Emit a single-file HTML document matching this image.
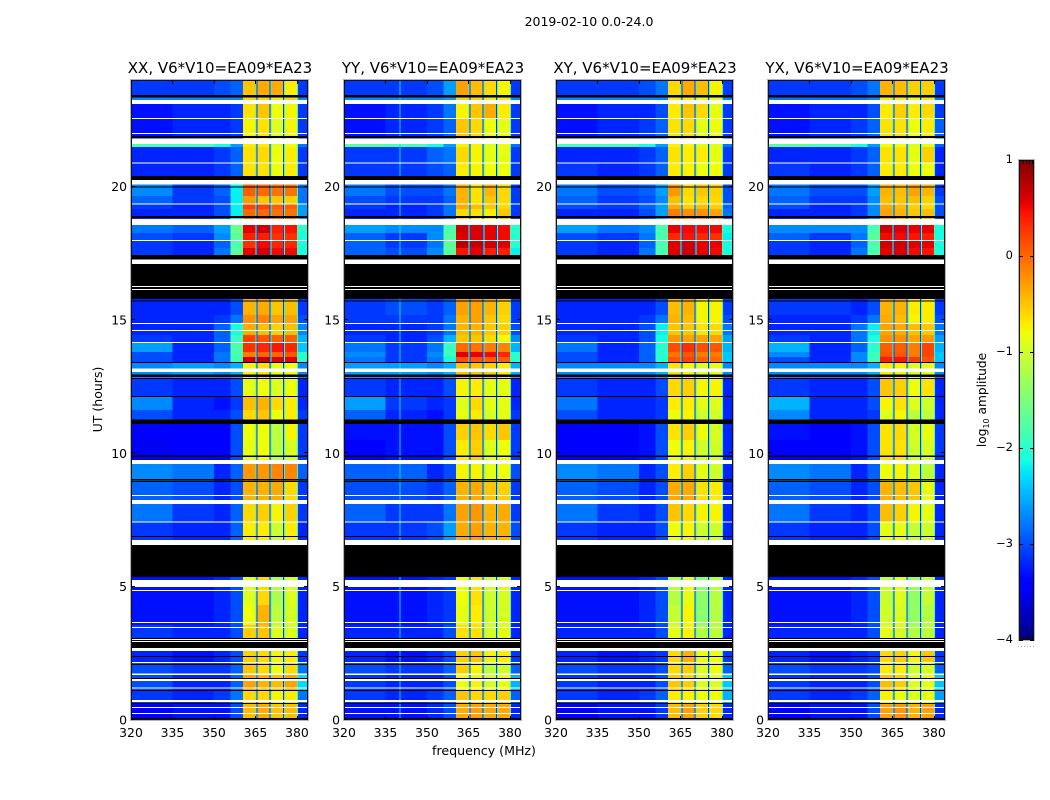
<!DOCTYPE html>
<html>
<head>
<meta charset="utf-8">
<title>2019-02-10 0.0-24.0</title>
<style>
html,body{margin:0;padding:0;background:#fff;width:1050px;height:800px;overflow:hidden}
svg{display:block}
text{font-family:"DejaVu Sans","Liberation Sans",sans-serif;fill:#000}
</style>
</head>
<body>
<svg id="chart" xmlns="http://www.w3.org/2000/svg" width="1050" height="800" viewBox="0 0 1050 800">
<rect x="0" y="0" width="1050" height="800" fill="#fff"/>
<text x="589" y="26" font-size="12.5" text-anchor="middle">2019-02-10 0.0-24.0</text>
<text x="484" y="755" font-size="12.6" text-anchor="middle">frequency (MHz)</text>
<text x="0" y="0" font-size="12.5" text-anchor="middle" transform="translate(102,399.5) rotate(-90)">UT (hours)</text>
<text x="0" y="0" font-size="12.2" text-anchor="middle" transform="translate(986,400) rotate(-90)">log<tspan font-size="8" dy="3">10</tspan><tspan dy="-3"> amplitude</tspan></text>
<g id="panels"></g>
<g id="colorbar"></g>
</svg>
<script>
// ---- axis data ----
const panelTitles = ['XX, V6*V10=EA09*EA23','YY, V6*V10=EA09*EA23','XY, V6*V10=EA09*EA23','YX, V6*V10=EA09*EA23'];
const freqTicks = [320,335,350,365,380];
const timeTicks = [0,5,10,15,20];
const colorbarTicks = [1,0,-1,-2,-3,-4];
// time-row boundaries, UT hours
const rowEdges = [0,0.64,1.09,1.69,2.17,2.59,3.56,4.31,5.36,7.42,8.10,8.92,9.60,10.50,11.10,11.62,12.11,12.79,13.39,13.61,13.80,14.17,14.44,14.85,15.19,15.79,17.70,17.96,18.26,18.56,19.16,19.35,19.65,20.10,20.88,21.48,21.60,22.53,23.10,23.36,24.0];
// frequency channels: MHz lower, MHz upper, column in the row table (or gap / fringe value)
const channelLo  = [320,335,350,356,360.5,365.0,365.36,365.72,370.05,370.41,370.77,374.93,375.3,375.66,380,380.36];
const channelHi  = [335,350,356,360.5,365.0,365.36,365.72,370.05,370.41,370.77,374.93,375.3,375.66,380,380.36,384];
const channelCol = [0,1,2,3,4,'f','g',5,'g','f',6,'g','f',7,'f',8];
const fringeValue = -1.9;
const gapValue = -3.1;
// flagged time ranges, UT hours
const whiteFlags = [[23.10,23.25],[22.54,22.575],[21.975,22.01],[21.60,21.81],[20.87,20.91],[20.09,20.25],[19.33,19.37],[18.56,18.79],[17.96,18.00],[17.10,17.27],[16.24,16.275],[16.125,16.16],[14.85,14.89],[14.59,14.625],[14.14,14.175],[13.05,13.18],[9.60,9.75],[8.40,8.44],[8.10,8.25],[7.40,7.44],[6.56,6.75],[4.99,5.25],[4.84,4.875],[3.64,3.675],[3.45,3.49],[3.00,3.04],[2.925,2.96],[2.59,2.70],[2.14,2.175],[1.69,1.74],[1.46,1.54],[1.18,1.22],[0.675,0.75],[0.45,0.49],[0.225,0.26]];
const blackFlags = [[23.34,23.44],[21.825,21.90],[20.25,20.40],[19.97,20.01],[18.825,18.90],[17.27,17.44],[16.275,17.10],[16.16,16.24],[15.79,16.125],[15.69,15.73],[13.39,13.425],[12.87,12.95],[12.79,12.825],[12.11,12.15],[11.10,11.27],[9.87,9.91],[8.99,9.03],[8.925,8.96],[6.86,6.90],[5.36,6.56],[3.04,3.075],[2.96,3.00],[2.70,2.925],[2.36,2.40],[2.06,2.10],[1.54,1.575],[1.09,1.125],[0.60,0.64],[0,0.075]];
// narrow interference lines: panel, MHz, log10 amplitude
const rfiPanel = [1];
const rfiFreq = [340];
const rfiValue = [-2.3];
// log10 amplitude per time row (bottom to top); columns:
// 320-335, 335-350, 350-356, 356-360.5, block1, block2, block3, block4, above-380
const valuesXX = [
[-3.4,-3.3,-3.3,-3,-.45,-.35,-.5,-.45,-3.2],
[-3.1,-3.2,-3.1,-2.8,-.6,-.6,-.75,-.7,-2.8],
[-3,-3.2,-3.2,-2.9,-.3,-.4,-.45,-.3,-2.3],
[-3,-3.1,-3.1,-2.9,-.5,-.6,-.8,-.6,-2.8],
[-3.2,-3.3,-3.2,-3,-.55,-.6,-.75,-.7,-3.1],
[-3.1,-3.2,-3.2,-3,-.55,-.5,-.9,-.9,-3.2],
[-3.3,-3.3,-3.2,-3,-.8,-.4,-1.1,-.95,-3.2],
[-3.3,-3.3,-3.2,-3,-.9,-.6,-1.2,-.9,-3.2],
[-3.1,-3.2,-3.2,-2.9,-.7,-.7,-1,-.7,-3.2],
[-2.8,-3.1,-3.2,-2.9,-.6,-.55,-.75,-.55,-3.1],
[-2.9,-3,-3.2,-3,-.4,-.4,-.35,-.6,-3.1],
[-2.7,-2.8,-3.2,-2.9,-.25,-.25,-.15,-.15,-2.9],
[-3.5,-3.4,-3.4,-3,-.85,-.8,-1.1,-.95,-3.1],
[-3.4,-3.4,-3.4,-3,-.8,-.8,-1.1,-.75,-3.1],
[-3,-3.2,-3.2,-3,-.6,-.5,-.8,-.7,-3.1],
[-2.7,-3.2,-3.3,-3.1,-.45,-.4,-.6,-.7,-3.2],
[-3.1,-3.2,-3.2,-3,-.85,-.8,-.9,-.8,-3.2],
[-2.7,-2.6,-2.7,-2.5,-.75,-.65,-.85,-.8,-2.7],
[-3,-3.2,-2.8,-1.9,.65,.7,.55,.55,-2],
[-3,-3.2,-2.8,-1.8,-.1,0,0,.1,-2],
[-2.6,-3.2,-2.9,-1.8,.3,.35,.45,.35,-2.4],
[-3.1,-3.2,-2.9,-1.9,.2,.1,.05,.05,-2.5],
[-3.2,-3.2,-2.9,-2.1,-.35,-.45,-.55,-.45,-2.7],
[-3.2,-3.2,-3.1,-2.8,-.2,-.15,-.3,-.3,-3],
[-3.2,-3.2,-3.2,-3,-.4,-.35,-.5,-.45,-3.1],
[-3.1,-3.2,-2.8,-1.7,.55,.65,.5,.5,-2.1],
[-3.1,-3.2,-2.9,-1.8,.3,.5,.35,.35,-2.1],
[-3,-3.1,-2.7,-1.7,.4,.4,.3,.3,-2.1],
[-2.8,-2.9,-2.6,-1.6,.55,.65,.4,.45,-2],
[-3.2,-3.2,-3,-2.2,0,0,-.05,-.05,-2.6],
[-3.1,-3.2,-3,-2.2,.2,.2,.05,.05,-2.6],
[-2.9,-3.1,-3,-2.2,-.25,-.5,-.5,-.55,-2.8],
[-2.7,-3.1,-2.9,-2.2,.05,0,-.05,-.05,-2.8],
[-3.2,-3.2,-3.1,-2.9,-.65,-.65,-.8,-.7,-3.1],
[-3.2,-3.2,-3.1,-2.9,-.65,-.6,-.8,-.7,-3.1],
[-1.8,-1.8,-2.1,-2.6,-.7,-.7,-.9,-.8,-2.8],
[-3.3,-3.2,-3.2,-3.1,-.75,-.65,-.9,-.75,-3.1],
[-3.3,-3.2,-3.2,-3.1,-.65,-.5,-.8,-.75,-3.1],
[-2.7,-2.7,-2.7,-2.7,-.6,-.6,-.7,-.6,-2.7],
[-3.1,-3.1,-3,-2.9,-.5,-.35,-.35,-.7,-3.1]];
const valuesYY = [
[-3.3,-3.3,-3.2,-3,-.35,-.3,-.35,-.35,-3.2],
[-3.1,-3.2,-3.1,-2.9,-.5,-.6,-.6,-.55,-2.9],
[-3.1,-3.2,-3.2,-3,-.8,-.75,-.95,-.85,-2.5],
[-3,-3.1,-3.1,-2.9,-.55,-.75,-1.1,-1,-2.9],
[-3.2,-3.3,-3.2,-3,-.55,-.5,-.75,-.7,-3.1],
[-3.2,-3.2,-3.2,-3,-.65,-.65,-.95,-.85,-3.2],
[-3.3,-3.3,-3.2,-3.1,-.85,-.7,-1,-.95,-3.2],
[-3.3,-3.3,-3.2,-3.1,-.8,-.65,-1,-.95,-3.2],
[-3.1,-3.1,-3,-2.6,-.35,-.3,-.4,-.4,-3],
[-2.9,-3.1,-3.1,-2.8,-.3,-.25,-.4,-.35,-3.1],
[-3,-3,-3.1,-2.9,-.4,-.35,-.5,-.55,-3.1],
[-2.9,-2.9,-3.2,-3,-.75,-.75,-.85,-.8,-3],
[-3.4,-3.3,-3.3,-3,-.7,-.55,-.9,-.8,-3.1],
[-3.3,-3.3,-3.3,-3,-.55,-.5,-.6,-.5,-3.1],
[-2.9,-3.2,-3.3,-3.1,-.85,-.7,-.95,-.85,-3.1],
[-2.6,-3.1,-3.2,-3.1,-.9,-.6,-.85,-.85,-3.2],
[-3.1,-3.2,-3.2,-3,-.75,-.7,-.85,-.85,-3.2],
[-2.6,-2.6,-2.7,-2.5,-.5,-.5,-.55,-.7,-2.5],
[-2.8,-3.1,-2.8,-2.1,.15,.1,.05,.05,-2],
[-2.7,-3.1,-2.7,-1.9,.6,.55,.5,.35,-2],
[-2.8,-3.1,-2.8,-1.9,0,-.05,-.1,-.15,-2.5],
[-3.1,-3.2,-3,-2.5,-.5,-.5,-.6,-.8,-2.7],
[-3.2,-3.2,-3.1,-2.8,-.4,-.4,-.5,-.55,-3],
[-3.1,-3.1,-3.1,-2.8,-.4,-.3,-.5,-.6,-3.1],
[-3.1,-3,-3.1,-2.9,-.3,-.3,-.4,-.55,-3.1],
[-2.9,-3,-2.7,-1.7,.45,.55,.4,.4,-2.2],
[-2.9,-3.1,-2.8,-1.7,.75,.7,.65,.6,-2],
[-2.9,-3.1,-2.7,-1.7,.6,.6,.55,.5,-2],
[-2.6,-2.7,-2.7,-1.8,.65,.6,.55,.5,-2],
[-3.2,-3.2,-3.1,-2.8,-.6,-.65,-.7,-.5,-3.1],
[-3.1,-3.2,-3.1,-2.8,-.35,-.45,-.5,-.6,-3.1],
[-3,-3.1,-3.1,-2.9,-.4,-.65,-.5,-.6,-3.1],
[-2.8,-3,-3,-2.8,-.4,-.65,-.4,-.6,-3.1],
[-3.1,-3.1,-3,-2.9,-.7,-.75,-.8,-.8,-3.1],
[-3.1,-3.1,-2.9,-2.8,-.6,-.75,-.85,-.85,-3.1],
[-1.7,-1.8,-2.1,-2.6,-.75,-.75,-.9,-.8,-2.8],
[-3.3,-3.2,-3.1,-2.9,-.5,-.6,-.8,-.85,-3.1],
[-3.3,-3.2,-3.1,-2.8,-.75,-.5,-.35,-.7,-3.1],
[-2.7,-2.7,-2.7,-2.6,-.6,-.6,-.7,-.7,-2.7],
[-3.1,-3.1,-3,-2.6,-.3,-.45,-.6,-.75,-3.1]];
const valuesXY = [
[-3.4,-3.3,-3.3,-3.1,-.45,-.3,-.55,-.6,-3.2],
[-3.1,-3.2,-3.1,-2.9,-.7,-.75,-.8,-.8,-2.5],
[-3.1,-3.2,-3.2,-3,-.5,-.55,-.9,-.9,-2.4],
[-3,-3.1,-3.1,-3,-.6,-.55,-.9,-.8,-2.9],
[-3.2,-3.3,-3.2,-3.1,-.6,-.4,-.8,-.8,-3.1],
[-3.2,-3.2,-3.2,-3,-.85,-.75,-1.15,-1.1,-3.2],
[-3.3,-3.3,-3.2,-3,-1.05,-.75,-1.4,-1.15,-3.2],
[-3.3,-3.3,-3.2,-3,-1.15,-.85,-1.4,-1.15,-3.2],
[-3.1,-3.2,-3.2,-3,-.8,-.75,-1,-1,-3.2],
[-2.8,-3.1,-3.2,-3,-.5,-.6,-.75,-.75,-3.2],
[-2.9,-3,-3.2,-3,-.35,-.35,-.65,-.7,-3.2],
[-2.7,-2.8,-3.2,-3,-.7,-.55,-.85,-1,-3.2],
[-3.4,-3.4,-3.3,-3,-.8,-.75,-1,-1,-3.2],
[-3.4,-3.4,-3.3,-3,-.65,-.55,-.8,-.95,-3.2],
[-3,-3.2,-3.2,-3.1,-.8,-.75,-1,-1,-3.2],
[-2.8,-3.2,-3.2,-3.1,-.7,-.7,-.85,-.9,-3.2],
[-3.1,-3.2,-3.2,-3,-.6,-.55,-.75,-.75,-3.2],
[-2.7,-2.7,-2.7,-2.5,-.65,-.75,-.9,-.85,-2.7],
[-3,-3.2,-2.9,-2,.1,.2,.05,0,-2.4],
[-3,-3.2,-2.9,-2,-.05,.1,-.1,-.1,-2.4],
[-2.8,-3.2,-2.9,-2,.15,.3,.15,.1,-2.5],
[-3.1,-3.2,-3,-2.1,-.25,-.3,-.3,-.3,-2.6],
[-3.2,-3.2,-3,-2.2,-.5,-.5,-.65,-.6,-2.8],
[-3.2,-3.2,-3.1,-2.8,-.4,-.45,-.75,-.75,-3],
[-3.2,-3.2,-3.2,-3,-.45,-.4,-.75,-.75,-3.1],
[-3.1,-3.2,-2.8,-1.8,.6,.65,.55,.5,-2.1],
[-3.1,-3.2,-2.9,-1.8,.6,.65,.55,.55,-2.1],
[-3,-3.1,-2.8,-1.8,.35,.45,.35,.3,-2.2],
[-2.6,-2.8,-2.7,-1.8,.55,.5,.5,.5,-2.1],
[-3.2,-3.2,-3,-2.6,-.1,-.2,-.2,-.3,-2.8],
[-3,-3.1,-2.9,-2.6,-.35,-.55,-.45,-.55,-2.9],
[-2.9,-3.1,-3,-2.7,-.45,-.65,-.6,-.6,-3],
[-2.8,-3,-2.9,-2.6,-.25,-.6,-.5,-.55,-3],
[-3.1,-3.2,-3.1,-2.9,-.7,-.75,-.8,-.8,-3.1],
[-3.2,-3.2,-3.1,-2.9,-.65,-.7,-.7,-.85,-3.1],
[-1.8,-1.8,-2.1,-2.6,-.75,-.75,-.9,-.9,-2.8],
[-3.3,-3.2,-3.1,-2.9,-.65,-.6,-.85,-.8,-3.1],
[-3.3,-3.2,-3.2,-3,-.7,-.5,-.6,-.85,-3.1],
[-2.7,-2.7,-2.7,-2.7,-.7,-.7,-.8,-.8,-2.7],
[-3.1,-3.1,-3,-2.8,-.6,-.35,-.45,-.75,-3.1]];
const valuesYX = [
[-3.4,-3.3,-3.3,-3,-.3,-.25,-.4,-.3,-3.2],
[-3.1,-3.2,-3.1,-2.9,-.75,-.85,-.9,-.85,-2.6],
[-3.1,-3.2,-3.2,-3,-.45,-.55,-.9,-.85,-2.4],
[-3,-3.1,-3.1,-3,-.7,-.7,-1,-.95,-2.9],
[-3.2,-3.3,-3.2,-3.1,-.6,-.55,-.75,-.5,-3.1],
[-3.2,-3.2,-3.2,-3,-.85,-.95,-1.15,-1.1,-3.2],
[-3.3,-3.3,-3.2,-3,-1,-.95,-1.35,-1.15,-3.2],
[-3.3,-3.3,-3.2,-3,-1.05,-.9,-1.35,-1.05,-3.2],
[-3.1,-3.2,-3.2,-3,-.85,-.85,-1.05,-1,-3.2],
[-2.8,-3.1,-3.2,-3,-.45,-.55,-.75,-.85,-3.2],
[-2.9,-3,-3.2,-3,-.4,-.45,-.5,-.85,-3.2],
[-2.7,-2.8,-3.2,-2.9,-.8,-.75,-.9,-1.1,-3.2],
[-3.4,-3.4,-3.3,-3,-.65,-.65,-1,-.95,-3.1],
[-3.3,-3.4,-3.3,-3,-.65,-.6,-.95,-.85,-3.1],
[-2.7,-3.2,-3.2,-3.1,-.9,-.75,-1.1,-1.1,-3.2],
[-2.5,-3.2,-3.2,-3,-.75,-.65,-.9,-1,-3.2],
[-3.1,-3.2,-3.2,-3,-.5,-.55,-.8,-.65,-3.2],
[-2.7,-2.7,-2.7,-2.5,-.7,-.75,-.9,-.85,-2.7],
[-3,-3.2,-2.7,-1.9,.4,.45,.25,.1,-2.4],
[-2.7,-3.2,-2.7,-1.9,.1,.1,-.1,.2,-2.4],
[-2.5,-3.2,-2.9,-2,.05,.05,-.1,.2,-2.5],
[-3.1,-3.2,-2.8,-2.1,-.2,-.2,-.3,-.25,-2.6],
[-3.2,-3.2,-2.8,-2.2,-.3,-.35,-.45,-.5,-2.8],
[-3.2,-3.2,-3.1,-2.8,-.35,-.45,-.75,-.7,-3],
[-3.1,-3.1,-3.2,-3,-.4,-.4,-.7,-.7,-3.1],
[-3.1,-3.2,-2.8,-1.8,.55,.6,.5,.45,-2.1],
[-3.1,-3.2,-2.9,-1.8,.65,.65,.6,.55,-2.1],
[-2.9,-3.1,-2.8,-1.7,.5,.5,.45,.4,-2.1],
[-2.7,-2.7,-2.7,-1.8,.65,.6,.55,.55,-2.1],
[-3.2,-3.2,-3.1,-2.7,-.3,-.4,-.5,-.45,-3],
[-3,-3.2,-3.1,-2.7,-.35,-.45,-.55,-.6,-3],
[-2.9,-3.1,-3.1,-2.7,-.45,-.5,-.45,-.55,-3],
[-2.8,-3,-3,-2.6,-.4,-.45,-.3,-.4,-3.1],
[-3.1,-3.2,-3.1,-2.9,-.7,-.7,-.8,-.8,-3.2],
[-3.2,-3.2,-3.1,-2.9,-.65,-.65,-.85,-.55,-3.2],
[-1.7,-1.8,-2.1,-2.6,-.8,-.8,-.9,-.85,-2.9],
[-3.3,-3.2,-3.1,-2.9,-.65,-.65,-.8,-.7,-2.9],
[-3.3,-3.2,-3.2,-3,-.7,-.55,-.7,-.6,-3.1],
[-2.8,-2.8,-2.8,-2.7,-.7,-.7,-.8,-.7,-2.8],
[-3.1,-3.1,-3,-2.8,-.4,-.45,-.55,-.55,-3.1]];
const panelValues = [valuesXX,valuesYY,valuesXY,valuesYX];

// ---- layout and scales ----
const SVGNS = 'http://www.w3.org/2000/svg';
const panelLeft = [131,344,556,768];
const plotWidth = 177, plotTop = 80, plotBottom = 720;
const freqMin = 320, freqMax = 384, timeMin = 0, timeMax = 24;
const cbLeft = 1019, cbRight = 1034, cbTop = 160, cbBottom = 640, vMin = -4, vMax = 1;

function xScale(p, mhz){ return panelLeft[p] + (mhz - freqMin) / (freqMax - freqMin) * plotWidth; }
function yScale(h){ return plotBottom - (h - timeMin) / (timeMax - timeMin) * (plotBottom - plotTop); }
function cbScale(v){ return cbBottom - (v - vMin) / (vMax - vMin) * (cbBottom - cbTop); }
function interp(pts, t){
  for (let i = 1; i < pts.length; i++) {
    if (t <= pts[i][0]) {
      const a = pts[i-1], b = pts[i];
      return a[1] + (b[1]-a[1]) * (t-a[0]) / (b[0]-a[0]);
    }
  }
  return pts[pts.length-1][1];
}
const jetR = [[0,0],[.35,0],[.66,1],[.89,1],[1,.5]];
const jetG = [[0,0],[.125,0],[.375,1],[.64,1],[.91,0],[1,0]];
const jetB = [[0,.5],[.11,1],[.34,1],[.65,0],[1,0]];
function jet(v){
  const t = Math.max(0, Math.min(1, (v - vMin) / (vMax - vMin)));
  const c = [jetR, jetG, jetB].map(function(s){ return Math.round(interp(s, t) * 255); });
  return 'rgb(' + c.join(',') + ')';
}
function make(tag, attrs, parent){
  const el = document.createElementNS(SVGNS, tag);
  for (const k in attrs) el.setAttribute(k, attrs[k]);
  parent.appendChild(el);
  return el;
}

const panelsGroup = document.getElementById('panels');
panelTitles.forEach(function(title, p){
  const g = make('g', {}, panelsGroup);
  
  

  const bg = make('rect', {x: panelLeft[p], y: plotTop, width: plotWidth, height: plotBottom - plotTop, fill: '#fff'}, g);
  
  

  // heatmap cells
  const cells = make('g', {'shape-rendering': 'crispEdges'}, g);
  
  
  panelValues[p].forEach(function(row, r){
    const yTop = yScale(rowEdges[r+1]), yBot = yScale(rowEdges[r]);
    channelCol.forEach(function(col, c){
      const v = col === 'f' ? fringeValue : col === 'g' ? gapValue : row[col];
      const x0 = xScale(p, channelLo[c]), x1 = xScale(p, channelHi[c]);
      const cell = make('rect', {x: x0, y: yTop, width: x1 - x0, height: yBot - yTop, fill: jet(v)}, cells);
      
      
    });
  });

  // interference lines
  rfiPanel.forEach(function(rp, i){
    if (rp !== p) return;
    const line = make('rect', {x: xScale(p, rfiFreq[i]), y: plotTop, width: 1, height: plotBottom - plotTop, fill: jet(rfiValue[i]), 'shape-rendering': 'crispEdges'}, g);
    
    
  });

  // flagged ranges
  whiteFlags.forEach(function(f){
    const el = make('rect', {x: panelLeft[p], y: yScale(f[1]), width: plotWidth, height: yScale(f[0]) - yScale(f[1]), fill: '#fff', 'shape-rendering': 'crispEdges'}, g);
    
    
  });
  blackFlags.forEach(function(f){
    const el = make('rect', {x: panelLeft[p], y: yScale(f[1]), width: plotWidth, height: yScale(f[0]) - yScale(f[1]), fill: '#000', 'shape-rendering': 'crispEdges'}, g);
    
    
  });

  // frame
  const frame = make('rect', {x: panelLeft[p] + .5, y: plotTop + .5, width: plotWidth - 1, height: plotBottom - plotTop - 1, fill: 'none', stroke: '#111', 'stroke-width': 1}, g);
  
  
  const outer = make('rect', {x: panelLeft[p] - .5, y: plotTop - .5, width: plotWidth + 1, height: plotBottom - plotTop + 1, fill: 'none', stroke: '#b4b4b4', 'stroke-width': 1}, g);
  
  

  // x ticks
  freqTicks.forEach(function(f){
    const x = Math.round(xScale(p, f)) + .5;
    const t1 = make('line', {x1: x, x2: x, y1: plotBottom, y2: plotBottom - 4, stroke: '#000'}, g);
    
    
    const t2 = make('line', {x1: x, x2: x, y1: plotTop, y2: plotTop + 4, stroke: '#000'}, g);
    
    
    const lab = make('text', {x: xScale(p, f), y: 737, 'font-size': 12.4, 'text-anchor': 'middle'}, g);
    
    
    lab.textContent = f;
  });

  // y ticks
  timeTicks.forEach(function(h){
    const y = Math.round(yScale(h)) - .5;
    const t1 = make('line', {x1: panelLeft[p], x2: panelLeft[p] + 4, y1: y, y2: y, stroke: '#000'}, g);
    
    
    const t2 = make('line', {x1: panelLeft[p] + plotWidth, x2: panelLeft[p] + plotWidth - 4, y1: y, y2: y, stroke: '#000'}, g);
    
    
    const lab = make('text', {x: panelLeft[p] - 4, y: yScale(h) + 4.5, 'font-size': 12.4, 'text-anchor': 'end'}, g);
    
    
    lab.textContent = h;
  });

  const titleEl = make('text', {x: panelLeft[p] + plotWidth / 2 + .5, y: 73, 'font-size': 15, 'text-anchor': 'middle'}, g);
  
  
  titleEl.textContent = title;
});

// ---- colorbar ----
const cb = document.getElementById('colorbar');
const cbStep = (cbBottom - cbTop) / 256;
const cbCells = make('g', {'shape-rendering': 'crispEdges'}, cb);


for (let i = 0; i < 256; i++) {
  const v = vMin + (i + .5) / 256 * (vMax - vMin);
  make('rect', {x: cbLeft, y: cbBottom - (i + 1) * cbStep, width: cbRight - cbLeft, height: cbStep + .5, fill: jet(v)}, cbCells);
}
const cbInner = make('rect', {x: cbLeft + .5, y: cbTop + .5, width: cbRight - cbLeft - 1, height: cbBottom - cbTop - 1, fill: 'none', stroke: '#111'}, cb);


const cbOuter = make('rect', {x: cbLeft - .5, y: cbTop - .5, width: cbRight - cbLeft + 1, height: cbBottom - cbTop + 1, fill: 'none', stroke: '#b4b4b4'}, cb);


colorbarTicks.forEach(function(v){
  const y = Math.round(cbScale(v)) + .5;
  const t1 = make('line', {x1: cbLeft, x2: cbLeft + 4, y1: y, y2: y, stroke: '#000'}, cb);
  
  
  const t2 = make('line', {x1: cbRight, x2: cbRight - 4, y1: y, y2: y, stroke: '#000'}, cb);
  
  
  const lab = make('text', {x: cbLeft - 6, y: cbScale(v) + 3, 'font-size': 11.5, 'text-anchor': 'end'}, cb);
  
  
  lab.textContent = String(v).replace('-', '\u2212');
});
[1023,1026,1029,1032].forEach(function(x){
  make('line', {x1: x + .5, x2: x + .5, y1: cbTop, y2: cbTop + 4, stroke: '#000'}, cb);
  make('line', {x1: x + .5, x2: x + .5, y1: cbBottom, y2: cbBottom - 4, stroke: '#000'}, cb);
});
const dots = make('line', {x1: 1018, x2: 1035, y1: 646.5, y2: 646.5, stroke: '#aaa', 'stroke-dasharray': '1 2'}, cb);


</script>
</body>
</html>
